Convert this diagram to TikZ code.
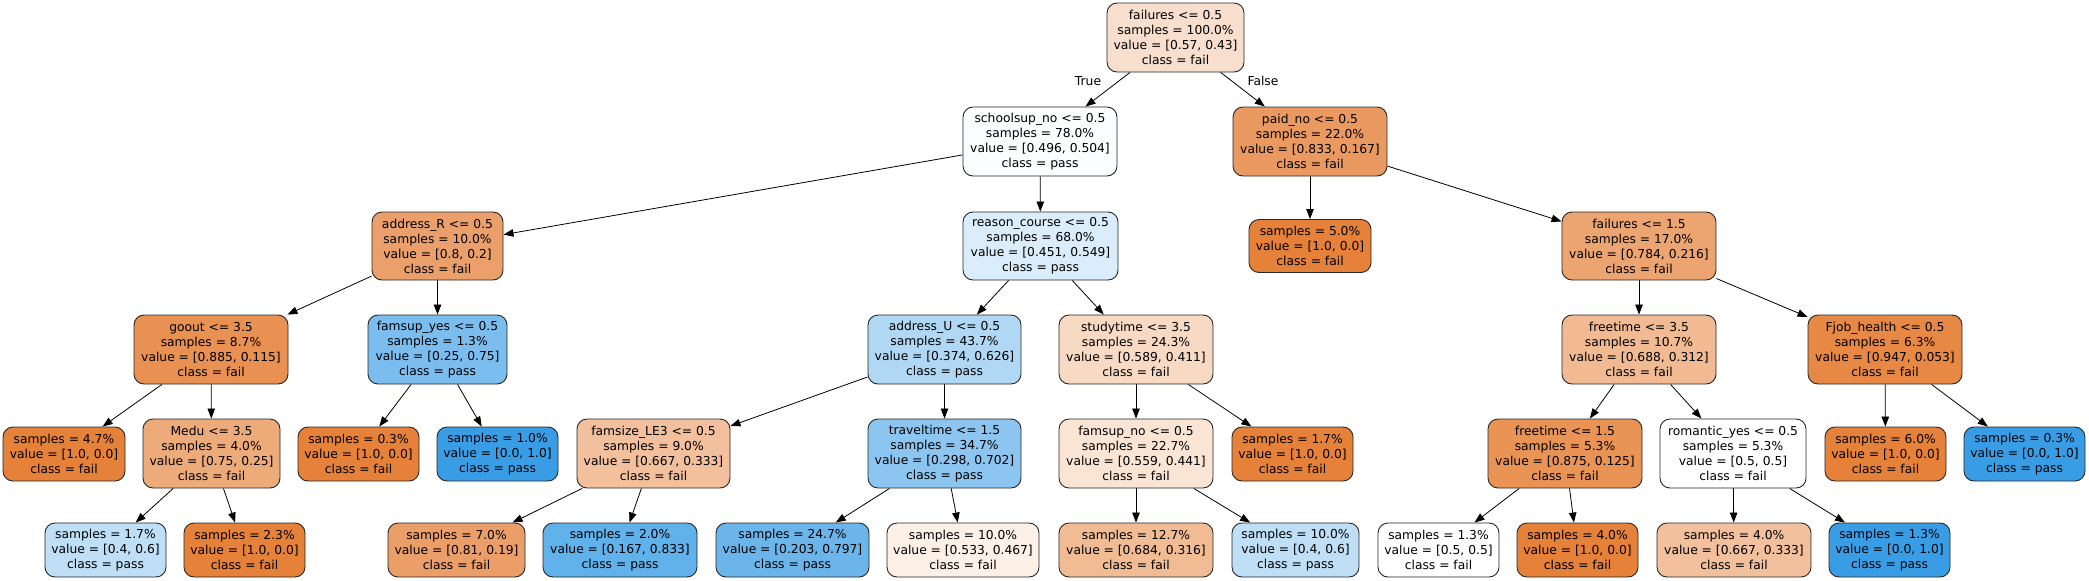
\documentclass[tikz,border=0pt]{standalone}
\usepackage{fontspec}
\setmainfont{DejaVu Sans}
\usetikzlibrary{arrows.meta}
\definecolor{oc}{RGB}{229,129,57}
\definecolor{bc}{RGB}{57,157,229}
\tikzset{
  tn/.style={draw=black!85, line width=0.9pt, rounded corners=10pt, align=center,
    inner sep=0pt, minimum height=69pt, font=\fontsize{12.3}{15}\selectfont},
  lf/.style={tn, minimum height=54pt, minimum width=121pt},
  ed/.style={-{Triangle[length=10pt,width=7.5pt]}, line width=0.8pt, black},
  el/.style={font=\fontsize{12.3}{15}\selectfont, inner sep=0pt}
}
\begin{document}
\begin{tikzpicture}[x=1pt,y=-1pt]
\useasboundingbox (0,0) rectangle (2089,581);
% row 0
\node[tn, minimum width=137pt, fill=oc!25!white] (root) at (1175.5,37.5) {failures <= 0.5\\samples = 100.0\%\\value = [0.57, 0.43]\\class = fail};
% row 1
\node[tn, minimum width=154pt, fill=bc!2!white] (s) at (1040,141.5) {schoolsup\_no <= 0.5\\samples = 78.0\%\\value = [0.496, 0.504]\\class = pass};
\node[tn, minimum width=154pt, fill=oc!80!white] (p) at (1310,141.5) {paid\_no <= 0.5\\samples = 22.0\%\\value = [0.833, 0.167]\\class = fail};
% row 2
\node[tn, minimum width=131pt, minimum height=68pt, fill=oc!75!white] (ar) at (437.5,246) {address\_R <= 0.5\\samples = 10.0\%\\value = [0.8, 0.2]\\class = fail};
\node[tn, minimum width=155pt, minimum height=68pt, fill=bc!18!white] (rc) at (1040.5,246) {reason\_course <= 0.5\\samples = 68.0\%\\value = [0.451, 0.549]\\class = pass};
\node[lf, minimum width=122pt, minimum height=53pt, fill=oc] (l50) at (1310,246) {samples = 5.0\%\\value = [1.0, 0.0]\\class = fail};
\node[tn, minimum width=154pt, minimum height=68pt, fill=oc!72!white] (f15) at (1639,246) {failures <= 1.5\\samples = 17.0\%\\value = [0.784, 0.216]\\class = fail};
% row 3
\node[tn, minimum width=154pt, fill=oc!87!white] (go) at (211,349.5) {goout <= 3.5\\samples = 8.7\%\\value = [0.885, 0.115]\\class = fail};
\node[tn, minimum width=139pt, fill=bc!67!white] (fy) at (437.5,349.5) {famsup\_yes <= 0.5\\samples = 1.3\%\\value = [0.25, 0.75]\\class = pass};
\node[tn, minimum width=153pt, fill=bc!40!white] (au) at (944.5,349.5) {address\_U <= 0.5\\samples = 43.7\%\\value = [0.374, 0.626]\\class = pass};
\node[tn, minimum width=154pt, fill=oc!30!white] (st) at (1136,349.5) {studytime <= 3.5\\samples = 24.3\%\\value = [0.589, 0.411]\\class = fail};
\node[tn, minimum width=154pt, fill=oc!55!white] (ft35) at (1639,349.5) {freetime <= 3.5\\samples = 10.7\%\\value = [0.688, 0.312]\\class = fail};
\node[tn, minimum width=154pt, fill=oc!94!white] (fj) at (1885,349.5) {Fjob\_health <= 0.5\\samples = 6.3\%\\value = [0.947, 0.053]\\class = fail};
% row 4
\node[lf, minimum width=122pt, fill=oc] (l47) at (64,454) {samples = 4.7\%\\value = [1.0, 0.0]\\class = fail};
\node[tn, minimum width=137pt, fill=oc!67!white] (md) at (211.5,453.5) {Medu <= 3.5\\samples = 4.0\%\\value = [0.75, 0.25]\\class = fail};
\node[lf, fill=oc] (l03a) at (358.5,454) {samples = 0.3\%\\value = [1.0, 0.0]\\class = fail};
\node[lf, fill=bc] (l10a) at (497.5,454) {samples = 1.0\%\\value = [0.0, 1.0]\\class = pass};
\node[tn, minimum width=153pt, fill=oc!50!white] (fs) at (653.5,453.5) {famsize\_LE3 <= 0.5\\samples = 9.0\%\\value = [0.667, 0.333]\\class = fail};
\node[tn, minimum width=153pt, fill=bc!58!white] (tt) at (944.5,453.5) {traveltime <= 1.5\\samples = 34.7\%\\value = [0.298, 0.702]\\class = pass};
\node[tn, minimum width=154pt, fill=oc!21!white] (fn) at (1136,453.5) {famsup\_no <= 0.5\\samples = 22.7\%\\value = [0.559, 0.441]\\class = fail};
\node[lf, fill=oc] (l17b) at (1292.5,454) {samples = 1.7\%\\value = [1.0, 0.0]\\class = fail};
\node[tn, minimum width=154pt, fill=oc!86!white] (ft15) at (1565,453.5) {freetime <= 1.5\\samples = 5.3\%\\value = [0.875, 0.125]\\class = fail};
\node[tn, minimum width=146pt, fill=white] (ro) at (1733,453.5) {romantic\_yes <= 0.5\\samples = 5.3\%\\value = [0.5, 0.5]\\class = fail};
\node[lf, fill=oc] (l60) at (1885.5,454) {samples = 6.0\%\\value = [1.0, 0.0]\\class = fail};
\node[lf, fill=bc] (l03b) at (2024.5,454) {samples = 0.3\%\\value = [0.0, 1.0]\\class = pass};
% row 5
\node[lf, fill=bc!33!white] (l17a) at (105.5,550) {samples = 1.7\%\\value = [0.4, 0.6]\\class = pass};
\node[lf, fill=oc] (l23) at (244.5,550) {samples = 2.3\%\\value = [1.0, 0.0]\\class = fail};
\node[lf, minimum width=137pt, fill=oc!77!white] (l70) at (456.5,550) {samples = 7.0\%\\value = [0.81, 0.19]\\class = fail};
\node[lf, minimum width=154pt, fill=bc!80!white] (l20) at (620,550) {samples = 2.0\%\\value = [0.167, 0.833]\\class = pass};
\node[lf, minimum width=153pt, fill=bc!75!white] (l247) at (792.5,550) {samples = 24.7\%\\value = [0.203, 0.797]\\class = pass};
\node[lf, minimum width=152pt, fill=oc!12!white] (l100a) at (963,550) {samples = 10.0\%\\value = [0.533, 0.467]\\class = fail};
\node[lf, minimum width=154pt, fill=oc!54!white] (l127) at (1136,550) {samples = 12.7\%\\value = [0.684, 0.316]\\class = fail};
\node[lf, minimum width=127pt, fill=bc!33!white] (l100b) at (1295.5,550) {samples = 10.0\%\\value = [0.4, 0.6]\\class = pass};
\node[lf, fill=white] (l13a) at (1438.5,550) {samples = 1.3\%\\value = [0.5, 0.5]\\class = fail};
\node[lf, fill=oc] (l40a) at (1577.5,550) {samples = 4.0\%\\value = [1.0, 0.0]\\class = fail};
\node[lf, minimum width=154pt, fill=oc!50!white] (l40b) at (1734,550) {samples = 4.0\%\\value = [0.667, 0.333]\\class = fail};
\node[lf, fill=bc] (l13b) at (1889.5,550) {samples = 1.3\%\\value = [0.0, 1.0]\\class = pass};
% edges
\draw[ed] (root) -- (s);
\draw[ed] (root) -- (p);
\node[el] (tl) at (1088,81) {True};
\node[el] (fl) at (1263,81) {False};
\draw[ed] (s) -- (ar);
\draw[ed] (s) -- (rc);
\draw[ed] (p) -- (l50);
\draw[ed] (p) -- (f15);
\draw[ed] (ar) -- (go);
\draw[ed] (ar) -- (fy);
\draw[ed] (rc) -- (au);
\draw[ed] (rc) -- (st);
\draw[ed] (f15) -- (ft35);
\draw[ed] (f15) -- (fj);
\draw[ed] (go) -- (l47);
\draw[ed] (go) -- (md);
\draw[ed] (fy) -- (l03a);
\draw[ed] (fy) -- (l10a);
\draw[ed] (au) -- (fs);
\draw[ed] (au) -- (tt);
\draw[ed] (st) -- (fn);
\draw[ed] (st) -- (l17b);
\draw[ed] (ft35) -- (ft15);
\draw[ed] (ft35) -- (ro);
\draw[ed] (fj) -- (l60);
\draw[ed] (fj) -- (l03b);
\draw[ed] (md) -- (l17a);
\draw[ed] (md) -- (l23);
\draw[ed] (fs) -- (l70);
\draw[ed] (fs) -- (l20);
\draw[ed] (tt) -- (l247);
\draw[ed] (tt) -- (l100a);
\draw[ed] (fn) -- (l127);
\draw[ed] (fn) -- (l100b);
\draw[ed] (ft15) -- (l13a);
\draw[ed] (ft15) -- (l40a);
\draw[ed] (ro) -- (l40b);
\draw[ed] (ro) -- (l13b);
\end{tikzpicture}
\end{document}
